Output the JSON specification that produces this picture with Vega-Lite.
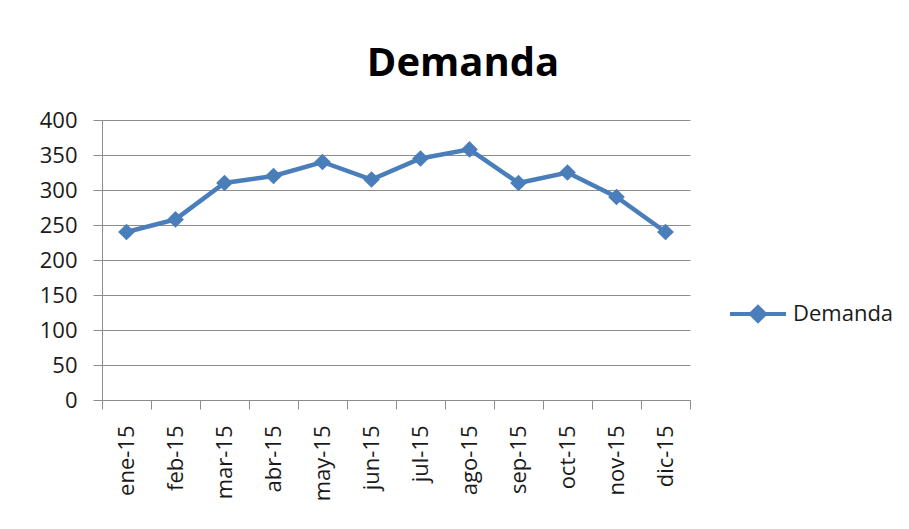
{
  "$schema": "https://vega.github.io/schema/vega-lite/v6.json",
  "width": 588,
  "height": 280,
  "autosize": {"type": "none"},
  "padding": {"left": 102, "top": 120, "right": 219, "bottom": 129},
  "background": "white",
  "title": {"text": "Demanda", "fontSize": 40, "font": "Open Sans", "fontWeight": "bold", "color": "#000000", "anchor": "middle", "frame": "group", "dx": 67, "dy": 50, "baseline": "alphabetic", "offset": 43},
  "data": {"values": [
    {"mes": "ene-15", "demanda": 240},
    {"mes": "feb-15", "demanda": 258},
    {"mes": "mar-15", "demanda": 310},
    {"mes": "abr-15", "demanda": 320},
    {"mes": "may-15", "demanda": 340},
    {"mes": "jun-15", "demanda": 315},
    {"mes": "jul-15", "demanda": 345},
    {"mes": "ago-15", "demanda": 358},
    {"mes": "sep-15", "demanda": 310},
    {"mes": "oct-15", "demanda": 325},
    {"mes": "nov-15", "demanda": 290},
    {"mes": "dic-15", "demanda": 240}
  ]},
  "encoding": {
    "x": {"field": "mes", "type": "ordinal", "sort": null, "bandPosition": 0.5,
      "scale": {"type": "band", "paddingInner": 0, "paddingOuter": 0},
      "axis": {"title": null, "labelAngle": -90, "tickBand": "extent", "tickSize": 9, "labelPadding": 16, "labelFontSize": 22, "labelFont": "Open Sans", "labelColor": "#1a1a1a", "domainColor": "#8c8c8c", "tickColor": "#8c8c8c", "grid": false}},
    "y": {"field": "demanda", "type": "quantitative", "scale": {"domain": [0, 400]},
      "axis": {"title": null, "values": [0, 50, 100, 150, 200, 250, 300, 350, 400], "tickSize": 9, "labelPadding": 16, "labelFontSize": 22, "labelFont": "Open Sans", "labelColor": "#1a1a1a", "grid": true, "gridColor": "#8c8c8c", "domainColor": "#8c8c8c", "tickColor": "#8c8c8c"}},
    "color": {"datum": "Demanda", "type": "nominal", "scale": {"range": ["#4a7ebb"]},
      "legend": {"title": null, "orient": "none", "legendX": 626, "legendY": 164, "symbolType": "M-1,0H1M-0.25,0L0,-0.25L0.25,0L0,0.25Z", "symbolSize": 3136, "symbolStrokeWidth": 4, "symbolFillColor": "#4a7ebb", "symbolStrokeColor": "#4a7ebb", "labelFontSize": 22, "labelFont": "Open Sans", "labelColor": "#1a1a1a", "labelOffset": 5}}
  },
  "layer": [
    {"mark": {"type": "line", "strokeWidth": 4.5}},
    {"mark": {"type": "point", "shape": "diamond", "filled": true, "size": 280, "opacity": 1}}
  ],
  "config": {"view": {"stroke": null}, "font": "Open Sans"}
}
